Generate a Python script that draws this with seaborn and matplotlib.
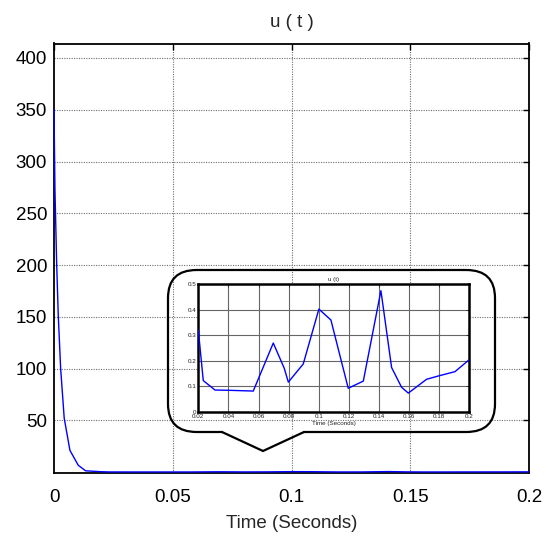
import numpy as np
import pandas as pd
import matplotlib
matplotlib.use("Agg")
import matplotlib.pyplot as plt
import seaborn as sns
from matplotlib.patches import FancyBboxPatch
from matplotlib.lines import Line2D

# ---- data ----
t_start = [0.0, 0.0004, 0.0011, 0.0018, 0.0028, 0.0043, 0.0067, 0.0102, 0.0133]
u_start = [350, 273, 203, 151, 100, 52, 21, 6.6, 1.2]

t_zoom = [0.02, 0.0233, 0.0311, 0.04, 0.0565, 0.0698, 0.0771, 0.0798, 0.0897,
          0.1001, 0.1081, 0.1151, 0.1196, 0.1296, 0.1413, 0.1484, 0.1550,
          0.1595, 0.1716, 0.1794, 0.1905, 0.2]
u_zoom = [0.321, 0.123, 0.086, 0.085, 0.082, 0.270, 0.171, 0.117, 0.188,
          0.403, 0.360, 0.197, 0.093, 0.121, 0.475, 0.174, 0.097,
          0.074, 0.128, 0.141, 0.158, 0.205]

main_xticks = [0, 0.05, 0.1, 0.15, 0.2]
main_xticklabels = ["0", "0.05", "0.1", "0.15", "0.2"]
main_yticks = [50, 100, 150, 200, 250, 300, 350, 400]
zoom_xticks = [0.02, 0.04, 0.06, 0.08, 0.1, 0.12, 0.14, 0.16, 0.18, 0.2]
zoom_xticklabels = ["0.02", "0.04", "0.06", "0.08", "0.1", "0.12", "0.14", "0.16", "0.18", "0.2"]
zoom_yticks = [0, 0.1, 0.2, 0.3, 0.4, 0.5]
zoom_yticklabels = ["0", "0.1", "0.2", "0.3", "0.4", "0.5"]

df_main = pd.DataFrame({"t": t_start + t_zoom, "u": u_start + u_zoom})
df_zoom = pd.DataFrame({"t": t_zoom, "u": u_zoom})

sns.set_theme(style="white")
plt.rcParams["font.family"] = ["Liberation Sans", "DejaVu Sans"]

W, H = 552, 539
fig = plt.figure(figsize=(W / 100, H / 100), dpi=100)
fig.patch.set_facecolor("white")

def fx(px):
    return px / W

def fy(py):
    return 1 - py / H

# main axes
ax = fig.add_axes([fx(54), fy(473.3), fx(529) - fx(54), fy(43.5) - fy(473.3)])
ax.set_facecolor("white")
sns.lineplot(data=df_main, x="t", y="u", ax=ax, color="#0000ff", lw=1.0,
             estimator=None, sort=False, zorder=3, clip_on=False)
ax.set_xlim(0, 0.2)
ax.set_ylim(-1.2, 414)
ax.set_xticks(main_xticks)
ax.set_xticklabels(main_xticklabels)
ax.set_yticks(main_yticks)
ax.set_yticklabels([str(v) for v in main_yticks])
for v in main_yticks:
    ax.axhline(v, color="#6e6e6e", lw=0.8, ls=(0, (1, 1.2)), zorder=0.5)
for v in main_xticks[1:-1]:
    ax.axvline(v, color="#6e6e6e", lw=0.8, ls=(0, (1, 1.2)), zorder=0.5)
ax.tick_params(direction="in", length=4, width=1, top=True, right=True,
               labelsize=13.5, colors="black")
ax.tick_params(axis="x", pad=11)
ax.tick_params(axis="y", pad=5)
for s in ax.spines.values():
    s.set_color("black")
    s.set_linewidth(1.3)
ax.set_xlabel("Time (Seconds)", fontsize=13.5, labelpad=7)
ax.set_ylabel("")
ax.set_title("u ( t )", fontsize=13.5, pad=12)

# callout bubble (no fill)
bx0, bx1, by0, by1 = 168, 495, 270, 432
bubble = FancyBboxPatch((fx(bx0), fy(by1)), fx(bx1) - fx(bx0), fy(by0) - fy(by1),
                        boxstyle="round,pad=0,rounding_size=0.052",
                        transform=fig.transFigure, facecolor="none",
                        edgecolor="black", lw=1.6, zorder=5)
fig.patches.append(bubble)
# gap for tail
fig.lines.append(Line2D([fx(224), fx(302)], [fy(by1), fy(by1)], transform=fig.transFigure,
                        color="white", lw=3.0, zorder=6))
fig.lines.append(Line2D([fx(222), fx(263), fx(304)], [fy(by1), fy(451), fy(by1)],
                        transform=fig.transFigure, color="black", lw=1.6, zorder=7,
                        solid_joinstyle="miter"))

# inset axes
axi = fig.add_axes([fx(198.3), fy(412), fx(469.3) - fx(198.3), fy(284.3) - fy(412)])
axi.set_facecolor("white")
sns.lineplot(data=df_zoom, x="t", y="u", ax=axi, color="#0000ff", lw=1.0,
             estimator=None, sort=False, zorder=3)
axi.set_xlim(0.02, 0.2)
axi.set_ylim(0, 0.5)
axi.set_xticks(zoom_xticks)
axi.set_xticklabels(zoom_xticklabels)
axi.set_yticks(zoom_yticks)
axi.set_yticklabels(zoom_yticklabels)
axi.grid(True, color="#666666", lw=0.8, ls="-")
axi.set_axisbelow(True)
axi.tick_params(direction="in", length=2, width=0.6, top=True, right=True,
                labelsize=4.5, colors="#222222", pad=1.5)
for s in axi.spines.values():
    s.set_color("black")
    s.set_linewidth(1.8)
axi.set_xlabel("Time (Seconds)", fontsize=4.5, labelpad=1.5, color="#222222")
axi.set_ylabel("")
axi.set_title("u (t)", fontsize=4.5, pad=2.5, color="#222222")

fig.savefig("out.png", dpi=100, facecolor="white")
